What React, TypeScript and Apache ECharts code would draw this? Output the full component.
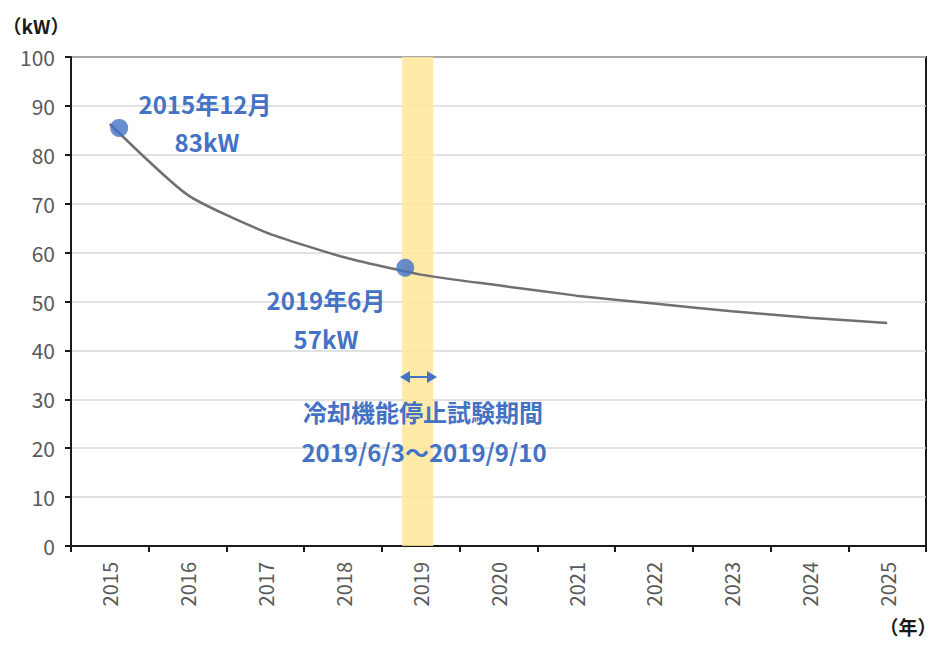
import React, { useEffect, useRef } from "react";
import * as echarts from "echarts";

const categories = ["2015", "2016", "2017", "2018", "2019", "2020", "2021", "2022", "2023", "2024", "2025"];
const lineYears = [2015, 2016, 2017, 2018, 2019, 2020, 2021, 2022, 2023, 2024, 2025];
const lineValues = [86.3, 71.8, 64.2, 59.1, 55.5, 53.3, 51.2, 49.6, 48.0, 46.7, 45.6];
const pointYears = [2015.12, 2018.8];
const pointValues = [85.5, 56.9];
const bandRange = [2018.76, 2019.16];
const yTicks = [0, 100, 10];

const FONT = "'Noto Sans CJK JP', 'Noto Sans', sans-serif";
const BLUE = "#4472C4";

export default function App() {
  const ref = useRef<HTMLDivElement>(null);
  useEffect(() => {
    const chart = echarts.init(ref.current!, null, { renderer: "svg" });
    const labelStyle = { fill: BLUE, font: `bold 24px ${FONT}`, textAlign: "center", textVerticalAlign: "middle" };
    chart.setOption({
      animation: false,
      backgroundColor: "#ffffff",
      grid: {
        left: 71, right: 14, top: 57, bottom: 100,
        show: true, borderColor: "#1a1a1a", borderWidth: 2, backgroundColor: "transparent",
      },
      xAxis: [
        {
          type: "category",
          data: categories,
          boundaryGap: true,
          axisLine: { lineStyle: { color: "#1a1a1a", width: 2 } },
          axisTick: { show: true, alignWithLabel: false, length: 6, lineStyle: { color: "#1a1a1a", width: 2 } },
          axisLabel: { rotate: 90, color: "#595959", fontSize: 20, fontFamily: FONT, margin: 16 },
          splitLine: { show: false },
        },
        {
          type: "value",
          min: 2014.5,
          max: 2025.5,
          show: false,
        },
      ],
      yAxis: {
        type: "value",
        min: yTicks[0],
        max: yTicks[1],
        interval: yTicks[2],
        axisLine: { show: true, lineStyle: { color: "#1a1a1a", width: 2 } },
        axisTick: { show: true, length: 6, lineStyle: { color: "#1a1a1a", width: 2 } },
        axisLabel: { color: "#595959", fontSize: 21, fontFamily: FONT, margin: 16 },
        splitLine: { lineStyle: { color: "#d9d9d9", width: 1.5 } },
      },
      series: [
        {
          type: "line",
          xAxisIndex: 1,
          data: lineYears.map((y, i) => [y, lineValues[i]]),
          smooth: 0.2,
          showSymbol: false,
          lineStyle: { color: "#707070", width: 2.5 },
          markArea: {
            silent: true,
            itemStyle: { color: "#FFE699", opacity: 0.85 },
            data: [[{ xAxis: bandRange[0], yAxis: 0 }, { xAxis: bandRange[1], yAxis: 100 }]],
          },
          z: 3,
        },
        {
          type: "scatter",
          xAxisIndex: 1,
          data: pointYears.map((y, i) => [y, pointValues[i]]),
          symbolSize: 18,
          itemStyle: { color: BLUE },
          z: 5,
        },
      ],
      graphic: [
        { type: "text", x: 36, y: 25, z: 100, style: { text: "（kW）", fill: "#1a1a1a", font: `bold 19px ${FONT}`, textAlign: "center", textVerticalAlign: "middle" } },
        { type: "text", x: 908, y: 626, z: 100, style: { text: "（年）", fill: "#1a1a1a", font: `bold 19px ${FONT}`, textAlign: "center", textVerticalAlign: "middle" } },
        { type: "text", x: 205, y: 103, z: 100, style: { ...labelStyle, text: "2015年12月" } },
        { type: "text", x: 207, y: 141, z: 100, style: { ...labelStyle, text: "83kW" } },
        { type: "text", x: 326, y: 299, z: 100, style: { ...labelStyle, text: "2019年6月" } },
        { type: "text", x: 326, y: 338, z: 100, style: { ...labelStyle, text: "57kW" } },
        { type: "text", x: 423, y: 411, z: 100, style: { ...labelStyle, text: "冷却機能停止試験期間" } },
        { type: "text", x: 424, y: 451, z: 100, style: { ...labelStyle, text: "2019/6/3～2019/9/10" } },
        { type: "line", z: 100, shape: { x1: 406, y1: 377, x2: 430, y2: 377 }, style: { stroke: BLUE, lineWidth: 2 } },
        { type: "polygon", z: 100, shape: { points: [[400, 377], [410, 371], [410, 383]] }, style: { fill: BLUE } },
        { type: "polygon", z: 100, shape: { points: [[437, 377], [427, 371], [427, 383]] }, style: { fill: BLUE } },
      ],
    });
    return () => chart.dispose();
  }, []);
  return <div ref={ref} style={{ position: "absolute", left: 0, top: 0, width: 940, height: 646 }} />;
}
